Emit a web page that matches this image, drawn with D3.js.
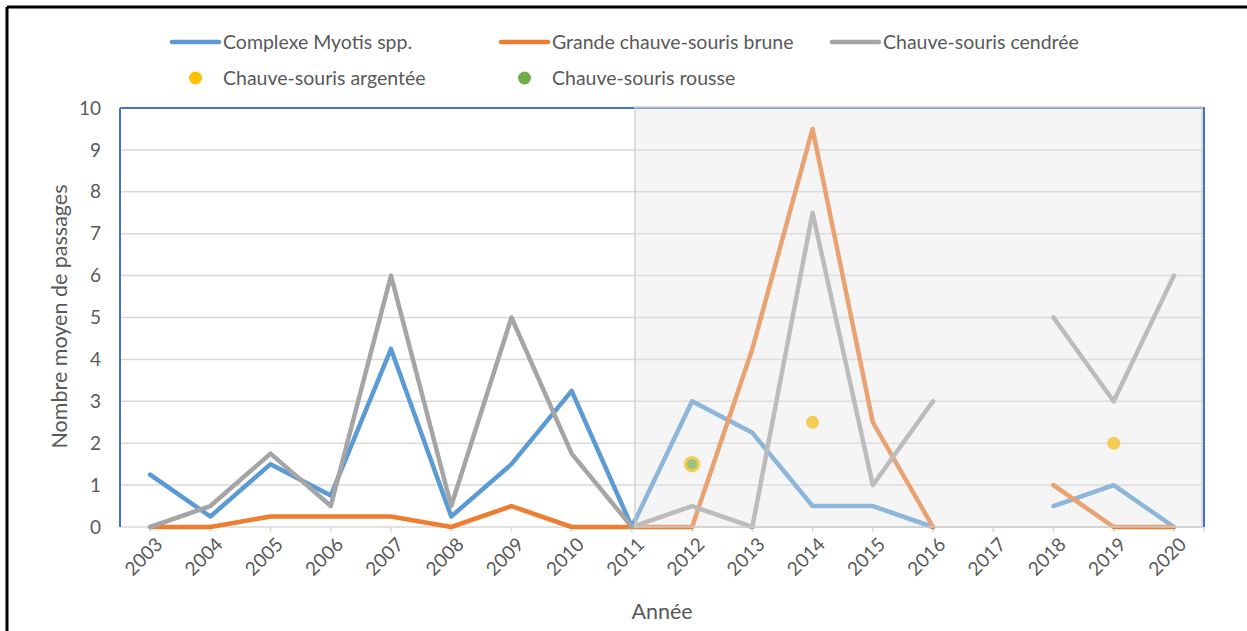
<!DOCTYPE html>
<html>
<head>
<meta charset="utf-8">
<script src="https://cdn.jsdelivr.net/npm/d3@7"></script>
<style>
  html, body { margin: 0; padding: 0; background: #fff; }
  svg { display: block; }
  text { font-family: Lato, "Open Sans", sans-serif; fill: #595959; }
</style>
</head>
<body>
<svg id="chart" width="1247" height="631"></svg>
<script>
// Années (2017 sans relevé)
const years = ["2003","2004","2005","2006","2007","2008","2009","2010","2011",
               "2012","2013","2014","2015","2016","2017","2018","2019","2020"];

// Nombre moyen de passages par espèce
const myotis  = [1.25, 0.25, 1.5, 0.75, 4.25, 0.25, 1.5, 3.25, 0, 3, 2.25, 0.5, 0.5, 0, null, 0.5, 1, 0];
const brune   = [0, 0, 0.25, 0.25, 0.25, 0, 0.5, 0, 0, 0, 4.25, 9.5, 2.5, 0, null, 1, 0, 0];
const cendree = [0, 0.5, 1.75, 0.5, 6, 0.5, 5, 1.75, 0, 0.5, 0, 7.5, 1, 3, null, 5, 3, 6];
const argentee = [null, null, null, null, null, null, null, null, null, 1.5, null, 2.5, null, null, null, null, 2, null];
const rousse   = [null, null, null, null, null, null, null, null, null, 1.5, null, null, null, null, null, null, null, null];

const yTicks = [0,1,2,3,4,5,6,7,8,9,10];
const shadeFrom = "2011";

const lineSeries = [
  { name: "Complexe Myotis spp.", values: myotis, color: "#5b9bd5" },
  { name: "Grande chauve-souris brune", values: brune, color: "#ed7d31" },
  { name: "Chauve-souris cendrée", values: cendree, color: "#a5a5a5" }
];
const pointSeries = [
  { name: "Chauve-souris argentée", values: argentee, color: "#ffc000", r: 6.5 },
  { name: "Chauve-souris rousse", values: rousse, color: "#70ad47", r: 6.7 }
];

const svg = d3.select("#chart");
const plot = { left: 120, right: 1204, top: 108, bottom: 527 };

const x = d3.scaleBand().domain(years).range([plot.left, plot.right]);
const xc = d => x(d) + x.bandwidth() / 2;
const y = d3.scaleLinear().domain([0, 10]).range([plot.bottom, plot.top]);

// cadre extérieur
svg.append("line").attr("x1", 7).attr("x2", 1247).attr("y1", 7).attr("y2", 7)
  .attr("stroke", "#000").attr("stroke-width", 3);
svg.append("line").attr("x1", 7).attr("x2", 7).attr("y1", 7).attr("y2", 631)
  .attr("stroke", "#000").attr("stroke-width", 3);

// quadrillage horizontal
svg.append("g").selectAll("line").data(yTicks.filter(t => t > 0)).join("line")
  .attr("x1", plot.left).attr("x2", plot.right)
  .attr("y1", d => y(d)).attr("y2", d => y(d))
  .attr("stroke", "#d9d9d9").attr("stroke-width", 1.5);

// axe horizontal et graduations
svg.append("line").attr("x1", plot.left).attr("x2", plot.right)
  .attr("y1", y(0)).attr("y2", y(0)).attr("stroke", "#d9d9d9").attr("stroke-width", 1.5);
svg.append("g").selectAll("line").data(years).join("line")
  .attr("x1", d => xc(d)).attr("x2", d => xc(d))
  .attr("y1", y(0)).attr("y2", y(0) + 5)
  .attr("stroke", "#d9d9d9").attr("stroke-width", 1.5);
svg.append("line").attr("x1", plot.right).attr("x2", plot.right)
  .attr("y1", y(0)).attr("y2", y(0) + 5).attr("stroke", "#d9d9d9").attr("stroke-width", 1.5);

// bordure bleue (haut, gauche)
svg.append("line").attr("x1", plot.left).attr("x2", plot.right)
  .attr("y1", plot.top).attr("y2", plot.top).attr("stroke", "#4472c4").attr("stroke-width", 2);
svg.append("line").attr("x1", plot.left).attr("x2", plot.left)
  .attr("y1", plot.top).attr("y2", plot.bottom).attr("stroke", "#4472c4").attr("stroke-width", 2);

// courbes
const line = d3.line()
  .defined(d => d != null)
  .x((d, i) => xc(years[i]))
  .y(d => y(d));

svg.append("g").selectAll("path").data(lineSeries).join("path")
  .attr("d", s => line(s.values))
  .attr("fill", "none")
  .attr("stroke", s => s.color)
  .attr("stroke-width", 4.5)
  .attr("stroke-linejoin", "round")
  .attr("stroke-linecap", "round");

// points (la rousse est cerclée de jaune lorsqu'elle recouvre l'argentée)
pointSeries.forEach((s, k) => {
  svg.append("g").selectAll("circle")
    .data(s.values.map((v, i) => ({ v, yr: years[i] })).filter(d => d.v != null))
    .join("circle")
    .attr("cx", d => xc(d.yr)).attr("cy", d => y(d.v))
    .attr("r", s.r).attr("fill", s.color)
    .attr("stroke", k === 1 ? pointSeries[0].color : "none")
    .attr("stroke-width", k === 1 ? 3 : 0);
});

// zone ombrée à partir de 2011
const sx = xc(shadeFrom) + 3;
svg.append("rect")
  .attr("x", sx).attr("y", plot.top - 1)
  .attr("width", plot.right - 2 - sx).attr("height", plot.bottom - plot.top + 1)
  .attr("fill", "rgba(228,228,228,0.37)")
  .attr("stroke", "rgba(205,205,205,0.7)").attr("stroke-width", 2);

// bordure bleue droite
svg.append("line").attr("x1", plot.right).attr("x2", plot.right)
  .attr("y1", plot.top - 1).attr("y2", plot.bottom).attr("stroke", "#4472c4").attr("stroke-width", 2);

// étiquettes de l'axe vertical
svg.append("g").selectAll("text").data(yTicks).join("text")
  .attr("x", 101).attr("y", d => y(d)).attr("dy", "0.35em")
  .attr("text-anchor", "end").attr("font-size", 19)
  .text(d => d);

// étiquettes de l'axe horizontal
svg.append("g").selectAll("text").data(years).join("text")
  .attr("transform", d => `translate(${xc(d) + 9},${y(0) + 14}) rotate(-45)`)
  .attr("text-anchor", "end").attr("dy", "0.35em").attr("font-size", 19)
  .text(d => d);

// titres des axes
svg.append("text").attr("x", 662).attr("y", 619).attr("text-anchor", "middle")
  .attr("font-size", 21.5).text("Année");
svg.append("text")
  .attr("transform", `translate(67,${(plot.top + plot.bottom) / 2 - 1}) rotate(-90)`)
  .attr("text-anchor", "middle").attr("font-size", 21.5)
  .text("Nombre moyen de passages");

// légende
const legendItems = [
  { s: lineSeries[0], type: "line", x: 172, y: 42 },
  { s: lineSeries[1], type: "line", x: 501, y: 42 },
  { s: lineSeries[2], type: "line", x: 832, y: 42 },
  { s: pointSeries[0], type: "dot", x: 172, y: 78 },
  { s: pointSeries[1], type: "dot", x: 501, y: 78 }
];
const lg = svg.append("g");
legendItems.forEach(it => {
  if (it.type === "line") {
    lg.append("line").attr("x1", it.x).attr("x2", it.x + 47)
      .attr("y1", it.y).attr("y2", it.y)
      .attr("stroke", it.s.color).attr("stroke-width", 4.5).attr("stroke-linecap", "round");
  } else {
    lg.append("circle").attr("cx", it.x + 23.5).attr("cy", it.y).attr("r", 6.5)
      .attr("fill", it.s.color);
  }
  lg.append("text").attr("x", it.x + 51).attr("y", it.y).attr("dy", "0.35em")
    .attr("font-size", 19.5).text(it.s.name);
});
</script>
</body>
</html>
